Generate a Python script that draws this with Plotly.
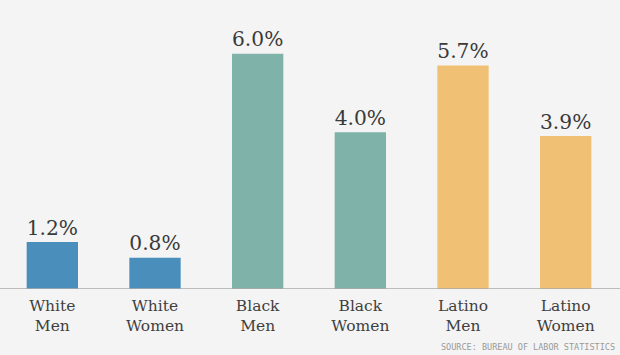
import plotly.graph_objects as go

categories = ["White<br>Men", "White<br>Women", "Black<br>Men", "Black<br>Women", "Latino<br>Men", "Latino<br>Women"]
values = [1.2, 0.8, 6.0, 4.0, 5.7, 3.9]
labels = ["1.2%", "0.8%", "6.0%", "4.0%", "5.7%", "3.9%"]
colors = ["#4a8fbc", "#4a8fbc", "#7fb2a9", "#7fb2a9", "#f0c074", "#f0c074"]
source = "SOURCE: BUREAU OF LABOR STATISTICS"

BG = "#f4f4f4"
fig = go.Figure(go.Bar(
    x=categories, y=values, text=labels, textposition="outside",
    marker=dict(color=colors, line=dict(width=0)),
    width=0.5, cliponaxis=False,
    textfont=dict(family="DejaVu Serif", size=23, color="#3a3a3a"),
    hoverinfo="skip",
))
fig.update_layout(
    width=620, height=355,
    margin=dict(l=1, r=3, t=0, b=66),
    paper_bgcolor=BG, plot_bgcolor=BG,
    showlegend=False,
    xaxis=dict(range=[-0.5, 5.5], showgrid=False, zeroline=False, showline=False,
               ticks="", tickfont=dict(family="DejaVu Serif", size=15.5, color="#3f3f3f"),
               ticklabelstandoff=5),
    yaxis=dict(range=[0, 7.37], visible=False, showgrid=False, zeroline=False),
    shapes=[dict(type="line", xref="paper", yref="y", x0=-0.01, x1=1.01, y0=0, y1=0,
                 line=dict(color="#aaaaaa", width=1.5))],
    annotations=[dict(text=source, xref="paper", yref="paper", x=1.0, y=-0.2,
                      xanchor="right", yanchor="middle", showarrow=False,
                      font=dict(family="DejaVu Sans Mono", size=8.5, color="#9a9a9a"))],
)
fig.write_html("out.html", config={"displayModeBar": False},
               post_script="document.body.style.margin='0';document.body.style.background='#f4f4f4';document.body.style.overflow='hidden';")
